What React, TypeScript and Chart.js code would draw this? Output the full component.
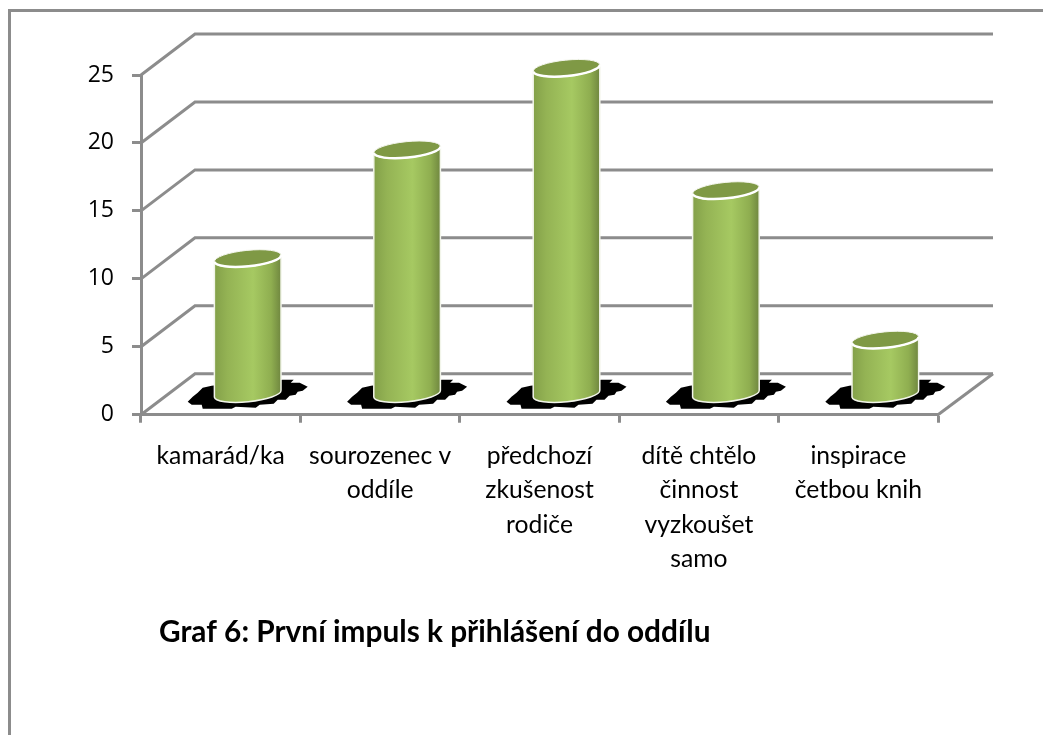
import React, { useEffect, useRef } from "react";
import { Chart, registerables } from "chart.js";

Chart.register(...registerables);

const categories: string[][] = [
  ["kamarád/ka"],
  ["sourozenec v", "oddíle"],
  ["předchozí", "zkušenost", "rodiče"],
  ["dítě chtělo", "činnost", "vyzkoušet", "samo"],
  ["inspirace", "četbou knih"],
];
const values: number[] = [10, 18, 24, 15, 4];
const captionText = "Graf 6: První impuls k přihlášení do oddílu";

const GRID = "#8c8c8c";
const FONT = "Lato, 'Open Sans', sans-serif";
const DEPTH_X = 55;
const DEPTH_Y = -41;
const SHADOW: number[][] = [
  [-60, 8], [-55, 3], [-50, -1], [-45, -6], [-36, -8], [-20, -10], [0, -12], [20, -13], [35, -14], [46, -14], [43, -11],
  [52, -11], [60, -7], [55, -3], [50, -2], [48, 1], [42, 2], [38, 6], [30, 6], [26, 10], [12, 11], [8, 14], [-12, 13], [-16, 15], [-45, 15],
  [-46, 11], [-56, 11],
];

const cylinderPlugin = {
  id: "cylinder3d",
  beforeDraw(chart: any) {
    const { ctx } = chart;
    ctx.save();
    ctx.fillStyle = "#fff";
    ctx.fillRect(0, 0, chart.width, chart.height);
    ctx.strokeStyle = GRID;
    ctx.lineWidth = 3;
    ctx.beginPath();
    ctx.moveTo(9.5, chart.height);
    ctx.lineTo(9.5, 10.5);
    ctx.lineTo(chart.width, 10.5);
    ctx.stroke();
    ctx.restore();
  },
  afterLayout(chart: any) {
    if (chart.titleBlock) {
      const w = chart.titleBlock.width;
      chart.titleBlock.left = 159;
      chart.titleBlock.right = 159 + w;
    }
  },
  beforeDatasetsDraw(chart: any) {
    const { ctx, scales } = chart;
    const y = scales.y;
    const area = chart.chartArea;
    ctx.save();
    ctx.strokeStyle = GRID;
    ctx.lineWidth = 3;
    ctx.lineJoin = "miter";
    y.ticks.forEach((t: any) => {
      const py = y.getPixelForValue(t.value);
      ctx.beginPath();
      ctx.moveTo(area.left, py);
      ctx.lineTo(area.left + 54, py + DEPTH_Y);
      ctx.lineTo(area.right + DEPTH_X, py + DEPTH_Y);
      ctx.stroke();
    });
    const y0 = y.getPixelForValue(0);
    ctx.beginPath();
    ctx.moveTo(area.right, y0);
    ctx.lineTo(area.right + DEPTH_X, y0 + DEPTH_Y);
    ctx.stroke();

    const meta = chart.getDatasetMeta(0);
    const rot = -0.1;
    const cos = Math.cos(rot);
    const sin = Math.sin(rot);
    meta.data.forEach((bar: any) => {
      const cx = bar.x + 27;
      const top = bar.y + DEPTH_Y / 2;
      const bottom = bar.base + DEPTH_Y / 2;
      const a = bar.width / 2;
      const b = 8;
      // shadow
      ctx.fillStyle = "#000";
      ctx.beginPath();
      SHADOW.forEach(([dx, dy], i) => {
        if (i === 0) ctx.moveTo(cx + dx, bottom + dy);
        else ctx.lineTo(cx + dx, bottom + dy);
      });
      ctx.closePath();
      ctx.fill();
      // side
      const grad = ctx.createLinearGradient(cx - a, 0, cx + a, 0);
      grad.addColorStop(0, "#83a049");
      grad.addColorStop(0.2, "#94b354");
      grad.addColorStop(0.58, "#a6c962");
      grad.addColorStop(0.85, "#8fae50");
      grad.addColorStop(1, "#6f863f");
      ctx.beginPath();
      ctx.moveTo(cx - a * cos, top - a * sin);
      ctx.lineTo(cx - a * cos, bottom - a * sin);
      ctx.ellipse(cx, bottom, a, b, rot, Math.PI, 0, true);
      ctx.lineTo(cx + a * cos, top + a * sin);
      ctx.ellipse(cx, top, a, b, rot, 0, Math.PI, false);
      ctx.closePath();
      ctx.fillStyle = grad;
      ctx.fill();
      ctx.strokeStyle = "#f2f5ea";
      ctx.lineWidth = 1.5;
      ctx.stroke();
      // top face
      ctx.beginPath();
      ctx.ellipse(cx, top, a, b, rot, 0, Math.PI * 2);
      ctx.fillStyle = "#7f9945";
      ctx.fill();
      ctx.strokeStyle = "#f4f6ee";
      ctx.lineWidth = 1;
      ctx.stroke();
      ctx.beginPath();
      ctx.ellipse(cx, top, a, b, rot, 0, Math.PI);
      ctx.strokeStyle = "#ffffff";
      ctx.lineWidth = 2.5;
      ctx.stroke();
    });
    ctx.restore();
  },
};

export default function App() {
  const ref = useRef<HTMLCanvasElement | null>(null);
  useEffect(() => {
    if (!ref.current) return;
    const chart = new Chart(ref.current, {
      type: "bar",
      data: {
        labels: categories,
        datasets: [
          {
            data: values,
            backgroundColor: "rgba(0,0,0,0)",
            borderWidth: 0,
            categoryPercentage: 1,
            barPercentage: 0.42,
          },
        ],
      },
      options: {
        responsive: false,
        animation: false,
        layout: {
          autoPadding: false,
          padding: { left: 41, right: 105, top: 75, bottom: 85 },
        },
        plugins: {
          legend: { display: false },
          tooltip: { enabled: false },
          title: {
            display: true,
            text: captionText,
            position: "bottom",
            align: "start",
            color: "#000",
            padding: 0,
            font: { family: FONT, size: 29.8, weight: "bold", lineHeight: 1.2 },
          },
        },
        scales: {
          x: {
            afterFit(s: any) {
              s.height = 199.5;
            },
            border: { display: true, color: GRID, width: 3 },
            grid: {
              drawOnChartArea: false,
              drawTicks: true,
              tickLength: 8,
              tickColor: GRID,
              tickWidth: 3,
              offset: true,
            },
            ticks: {
              autoSkip: false,
              maxRotation: 0,
              minRotation: 0,
              padding: 16,
              color: "#000",
              font: { family: FONT, size: 24.7, lineHeight: 1.395 },
            },
          },
          y: {
            min: 0,
            max: 25,
            afterFit(s: any) {
              s.width = 100;
            },
            border: { display: true, color: GRID, width: 3 },
            grid: {
              drawOnChartArea: false,
              drawTicks: true,
              tickLength: 9,
              tickColor: GRID,
              tickWidth: 3,
            },
            ticks: {
              stepSize: 5,
              padding: 18,
              color: "#000",
              font: { family: "'Open Sans', sans-serif", size: 23 },
            },
          },
        },
      } as any,
      plugins: [cylinderPlugin],
    });
    return () => chart.destroy();
  }, []);
  return (
    <div style={{ position: "absolute", left: 0, top: 0, width: 1043, height: 735 }}>
      <canvas ref={ref} width={1043} height={735} style={{ display: "block" }} />
    </div>
  );
}
